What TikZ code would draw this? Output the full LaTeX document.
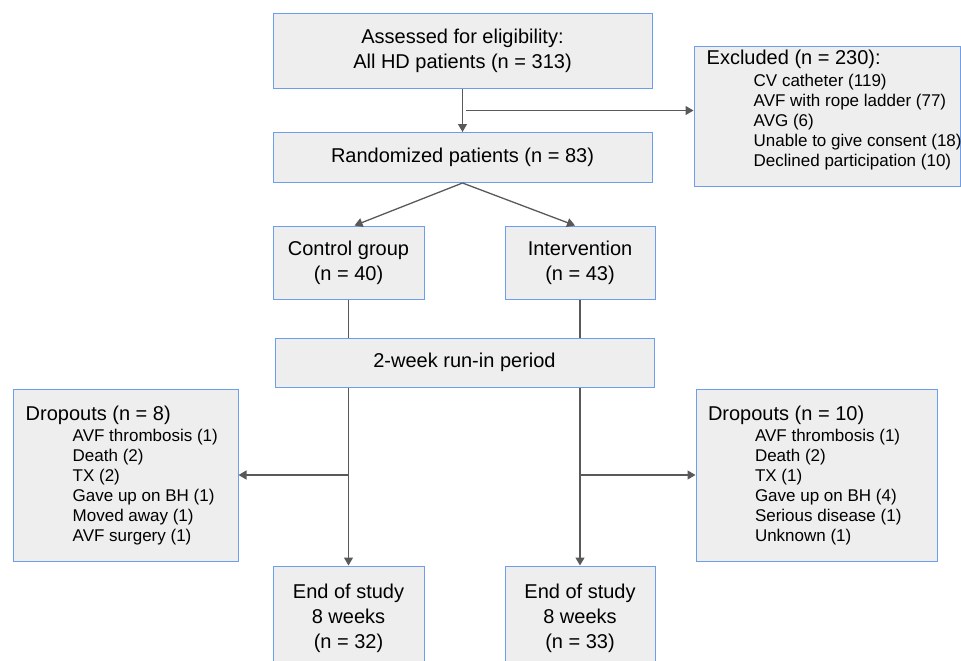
\documentclass[tikz,border=0pt]{standalone}
\usepackage{fontspec}
\setmainfont{Liberation Sans}
\usetikzlibrary{arrows.meta, positioning, calc}
\definecolor{boxFill}{HTML}{EEEEEE}
\definecolor{boxEdge}{HTML}{6D9EEB}
\definecolor{lineGray}{HTML}{595959}
\newcommand{\bigtext}{\fontsize{20}{25}\selectfont}
\newcommand{\smalltext}{\fontsize{17}{20}\selectfont}
\newcommand{\listindent}{\hspace*{47pt}}

\begin{document}
\begin{tikzpicture}[
    x=1pt, y=-1pt,
    box/.style={draw=boxEdge, fill=boxFill, line width=1pt, align=center, inner sep=0pt, font=\bigtext},
    listtext/.style={align=left, inner sep=0pt, font=\smalltext, anchor=north west},
    arrow/.style={-{Triangle[length=8pt, width=9pt]}, line width=1.3pt, draw=lineGray},
    link/.style={line width=1.3pt, draw=lineGray}
  ]
  \clip (0,0) rectangle (961,661);

  % Screening
  \node[box, minimum width=379pt, minimum height=75pt] (assess) at (462.5,51) {Assessed for eligibility:\\All HD patients (n = 313)};
  \node[box, minimum width=379pt, minimum height=50pt, below=43pt of assess] (rand) {Randomized patients (n = 83)};
  \node[box, minimum width=266pt, minimum height=139pt] (excl) at (827,116.5) {};
  \node[listtext, xshift=13pt, yshift=-3.4pt] (exclist) at (excl.north west) {{\bigtext Excluded (n = 230):}\\[1.7pt]
    \listindent CV catheter (119)\\
    \listindent AVF with rope ladder (77)\\
    \listindent AVG (6)\\
    \listindent Unable to give consent (18)\\
    \listindent Declined participation (10)};

  % Groups and run-in
  \node[box, minimum width=151pt, minimum height=73pt] (ctrl) at (348.5,262.5) {Control group\\(n = 40)};
  \node[box, minimum width=150pt, minimum height=73pt, right=80pt of ctrl] (intv) {Intervention\\(n = 43)};
  \node[box, minimum width=379pt, minimum height=49pt] (runin) at (464.5,362.5) {2-week run-in period};

  % Dropouts
  \node[box, minimum width=225pt, minimum height=172pt] (cdrop) at (125.5,475) {};
  \node[listtext, xshift=13pt, yshift=-17.1pt] (cdroplist) at (cdrop.north west) {{\bigtext Dropouts (n = 8)}\\[1pt]
    \listindent AVF thrombosis (1)\\
    \listindent Death (2)\\
    \listindent TX (2)\\
    \listindent Gave up on BH (1)\\
    \listindent Moved away (1)\\
    \listindent AVF surgery (1)};
  \node[box, minimum width=241pt, minimum height=172pt] (idrop) at (816.5,475) {};
  \node[listtext, xshift=12.3pt, yshift=-17.1pt] (idroplist) at (idrop.north west) {{\bigtext Dropouts (n = 10)}\\[1pt]
    \listindent AVF thrombosis (1)\\
    \listindent Death (2)\\
    \listindent TX (1)\\
    \listindent Gave up on BH (4)\\
    \listindent Serious disease (1)\\
    \listindent Unknown (1)};

  % End of study
  \node[box, minimum width=151pt, minimum height=104pt] (cend) at (348.5,618) {End of study\\8 weeks\\(n = 32)};
  \node[box, minimum width=150pt, minimum height=104pt, right=80pt of cend] (iend) {End of study\\8 weeks\\(n = 33)};

  % Connectors
  \coordinate (split) at ($(assess.south)!0.5!(rand.north)$);
  \draw[arrow] (assess) -- (rand);
  \draw[arrow] ([xshift=3pt]split) -- (split -| excl.west);
  \draw[arrow] (rand.south) -- ([xshift=6pt]ctrl.north);
  \draw[arrow] (rand.south) -- ([xshift=-5pt]intv.north);
  \draw[link] (ctrl.south) -- (ctrl.south |- runin.north);
  \draw[link] (intv.south) -- (intv.south |- runin.north);
  \draw[arrow] (ctrl.south |- runin.south) -- (cend.north);
  \draw[arrow] (intv.south |- runin.south) -- (iend.north);
  \draw[arrow] (cend.north |- cdrop.east) -- (cdrop.east);
  \draw[arrow] (iend.north |- idrop.west) -- (idrop.west);

\end{tikzpicture}
\end{document}
